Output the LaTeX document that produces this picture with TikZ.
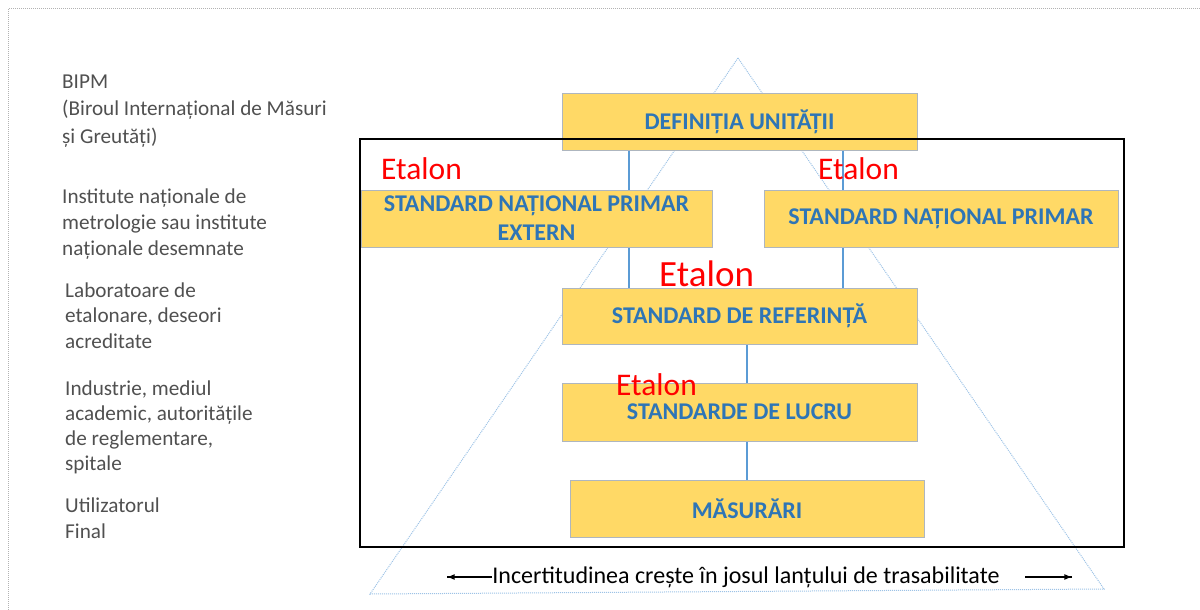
\documentclass[tikz,border=0pt]{standalone}
\usepackage{fontspec}
\setmainfont{Carlito}
\usetikzlibrary{decorations.markings}
\pgfdeclarelayer{bg}
\pgfsetlayers{bg,main}
\definecolor{boxfill}{HTML}{FFD966}
\definecolor{boxline}{HTML}{AEB6BF}
\definecolor{boxtext}{HTML}{2E75B6}
\definecolor{linkblue}{HTML}{5B9BD5}
\definecolor{triblue}{HTML}{9DC3E6}
\definecolor{sidegray}{HTML}{505050}

\begin{document}
\begin{tikzpicture}[x=1pt, y=-1pt,
  box/.style={draw=boxline, fill=boxfill, line width=1pt, inner sep=0pt, minimum height=57pt, align=center, text=boxtext, font=\fontsize{24}{29}\selectfont\bfseries},
  etalon/.style={text=red, inner sep=0pt, anchor=base west, font=\fontsize{31.5}{33}\selectfont},
  side/.style={text=sidegray, inner sep=0pt, anchor=base west, align=left, font=\fontsize{21.2}{25.5}\selectfont},
  link/.style={draw=linkblue, line width=2pt},
  arr/.style={line width=1.6pt, decoration={markings,mark=at position 1 with {\arrow{latex}}}, postaction={decorate}}]
\useasboundingbox (0,0) rectangle (1200,610);
\clip (0,0) rectangle (1200,610);
\draw[gray!60, densely dotted, line width=1pt] (8,9) rectangle (1230,640);

\node[side, font=\fontsize{21.2}{27.5}\selectfont] (bipm) at (62,143) {BIPM\\(Biroul Internațional de Măsuri\\și Greutăți)};
\node[side, font=\fontsize{21.2}{26}\selectfont] (inst) at (62,255) {Institute naționale de\\metrologie sau institute\\naționale desemnate};
\node[side] (lab) at (65,348) {Laboratoare de\\etalonare, deseori\\acreditate};
\node[side, font=\fontsize{21.2}{25}\selectfont] (ind) at (65,470) {Industrie, mediul\\academic, autoritățile\\de reglementare,\\spitale};
\node[side] (util) at (65,538) {Utilizatorul\\Final};

\node[box, minimum width=355pt] (def) at (739.5,122) {DEFINIȚIA UNITĂȚII};
\node[box, minimum width=351pt] (snpe) at (536.5,218.5) {STANDARD NAȚIONAL PRIMAR\\EXTERN};
\node[box, minimum width=354pt] (snp) at (941,218.5) {STANDARD NAȚIONAL PRIMAR};
\node[box, minimum width=355pt, minimum height=56pt] (ref) at (739.5,316) {STANDARD DE REFERINȚĂ};
\node[box, minimum width=355pt, minimum height=58pt] (lucru) at (739.5,412) {STANDARDE DE LUCRU};
\node[box, minimum width=354pt] (mas) at (747,508.5) {MĂSURĂRI};

\begin{pgfonlayer}{bg}
\draw[triblue, densely dotted, line width=1pt] (738,58) -- (1104,589) -- (370,594) -- cycle;
\draw[link] (629,0 |- def.south) -- (629,0 |- ref.north);
\draw[link] (843,0 |- def.south) -- (843,0 |- ref.north);
\draw[link] (747,0 |- ref.south) -- (747,0 |- mas.north);
\end{pgfonlayer}

\draw[line width=1.5pt] (360,139) rectangle (1124,547);

\node[etalon] (e1) at (381,179) {Etalon};
\node[etalon] (e2) at (818,179) {Etalon};
\node[etalon, font=\fontsize{37}{39}\selectfont] (e3) at (659,286) {Etalon};
\node[etalon] (e4) at (616,395) {Etalon};

\node[inner sep=0pt, font=\fontsize{24}{26}\selectfont] (incert) at (746,577) {Incertitudinea crește în josul lanțului de trasabilitate};
\coordinate (la) at (447,577);
\coordinate (ra0) at (1025,577);
\coordinate (ra) at (1072,577);
\draw[arr] (incert.west) -- (la);
\draw[arr] (ra0) -- (ra);
\end{tikzpicture}
\end{document}
